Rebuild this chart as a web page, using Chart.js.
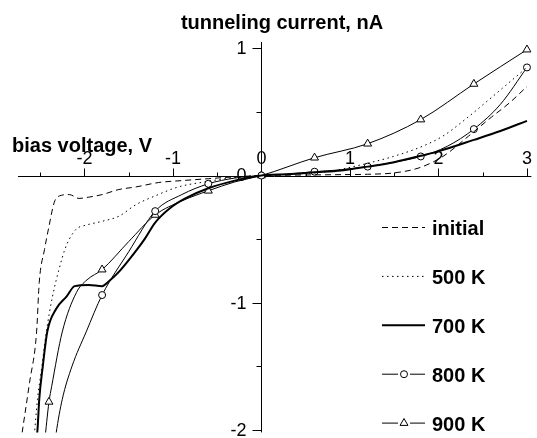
<!DOCTYPE html>
<html lang="en">
<head>
<meta charset="UTF-8">
<title>tunneling current vs bias voltage</title>
<script src="https://cdn.jsdelivr.net/npm/chart.js@4"></script>
<style>
  html, body { margin: 0; padding: 0; background: #fff; }
  #wrap { width: 537px; height: 438px; }
</style>
</head>
<body>
<div id="wrap"><canvas id="iv"></canvas></div>
<script>
  // bias voltage (V) and tunneling current (nA)
  const vInitial = [-2.72, -2.62, -2.54, -2.51, -2.45, -2.40, -2.34, -2.28, -2.17, -2.06, -1.95, -1.80, -1.61, -1.42, -1.16, -0.9, -0.6, -0.3, 0, 0.3, 0.6, 0.9, 1.2, 1.49, 1.78, 2.05, 2.34, 2.6, 2.8, 3.0];
  const iInitial = [-2.1, -1.63, -1.23, -0.84, -0.58, -0.40, -0.21, -0.16, -0.15, -0.18, -0.17, -0.15, -0.11, -0.09, -0.055, -0.04, -0.025, -0.01, 0, 0.003, 0.005, 0.007, 0.01, 0.02, 0.06, 0.15, 0.31, 0.46, 0.57, 0.70];

  const v500 = [-2.57, -2.53, -2.48, -2.43, -2.36, -2.28, -2.22, -2.17, -2.09, -1.98, -1.80, -1.61, -1.42, -1.2, -0.94, -0.64, -0.3, 0, 0.3, 0.74, 1.22, 1.49, 1.82, 2.05, 2.30, 2.61, 2.83, 3.0];
  const i500 = [-2.08, -1.76, -1.50, -1.23, -0.95, -0.72, -0.58, -0.50, -0.42, -0.39, -0.36, -0.32, -0.23, -0.16, -0.09, -0.05, -0.015, 0, 0.01, 0.03, 0.10, 0.15, 0.23, 0.31, 0.44, 0.62, 0.75, 0.85];

  const v700 = [-2.55, -2.53, -2.51, -2.47, -2.42, -2.32, -2.20, -2.11, -1.95, -1.80, -1.72, -1.6, -1.47, -1.32, -1.20, -1.02, -0.86, -0.6, -0.3, 0, 0.3, 0.6, 0.9, 1.2, 1.5, 1.8, 2.0, 2.4, 2.7, 3.0];
  const i700 = [-2.1, -2.0, -1.76, -1.50, -1.23, -1.05, -0.95, -0.87, -0.86, -0.87, -0.83, -0.75, -0.64, -0.50, -0.37, -0.25, -0.18, -0.10, -0.04, 0, 0.01, 0.025, 0.04, 0.07, 0.105, 0.155, 0.19, 0.28, 0.35, 0.43];

  const v800 = [-2.35, -2.32, -2.25, -2.14, -1.98, -1.8, -1.5, -1.2, -0.9, -0.6, -0.3, 0, 0.3, 0.6, 0.9, 1.2, 1.5, 1.8, 2.1, 2.4, 2.7, 3.0];
  const i800 = [-2.2, -2.03, -1.76, -1.50, -1.23, -0.94, -0.60, -0.28, -0.15, -0.065, -0.02, 0, 0.012, 0.03, 0.045, 0.07, 0.105, 0.15, 0.23, 0.365, 0.56, 0.85];

  const v900 = [-2.45, -2.4, -2.37, -2.25, -2.09, -1.97, -1.8, -1.5, -1.2, -0.9, -0.6, -0.3, 0, 0.6, 1.2, 1.8, 2.4, 3.0];
  const i900 = [-2.1, -1.78, -1.66, -1.23, -0.92, -0.82, -0.74, -0.52, -0.31, -0.20, -0.12, -0.05, 0, 0.14, 0.25, 0.44, 0.72, 0.99];

  // measured points that carry a symbol
  const markerV = [-2.4, -1.8, -1.2, -0.6, 0, 0.6, 1.2, 1.8, 2.4, 3.0];

  const xTicks = [-2, -1, 0, 1, 2, 3];
  const xMinor = [-2.5, -1.5, -0.5, 0.5, 1.5, 2.5];
  const yTicks = [1, 0, -1, -2];
  const yMinor = [0.5, -0.5, -1.5];
  const seriesLabels = ['initial', '500 K', '700 K', '800 K', '900 K'];

  const pts = (v, i) => v.map((x, k) => ({ x: x, y: i[k] }));
  const markerRadius = r => c => (c.raw && markerV.includes(c.raw.x)) ? r : 0;

  const base = {
    borderColor: '#000',
    fill: false,
    tension: 0.4,
    cubicInterpolationMode: 'monotone',
    pointRadius: 0,
    pointHoverRadius: 0,
    pointBackgroundColor: '#fff',
    pointBorderColor: '#000',
    pointBorderWidth: 1
  };

  const datasets = [
    Object.assign({}, base, { label: seriesLabels[0], data: pts(vInitial, iInitial), borderWidth: 1, borderDash: [6, 4] }),
    Object.assign({}, base, { label: seriesLabels[1], data: pts(v500, i500), borderWidth: 1, borderDash: [1.5, 3.5] }),
    Object.assign({}, base, { label: seriesLabels[2], data: pts(v700, i700), borderWidth: 2 }),
    Object.assign({}, base, { label: seriesLabels[3], data: pts(v800, i800), borderWidth: 1,
      pointStyle: 'circle', pointRadius: markerRadius(3.5) }),
    Object.assign({}, base, { label: seriesLabels[4], data: pts(v900, i900), borderWidth: 1,
      pointStyle: 'triangle', pointRadius: markerRadius(4.6) })
  ];

  const crisp = p => Math.round(p) + 0.5;

  // axes crossing at the origin, tick labels, titles and legend
  const frame = {
    id: 'frame',
    beforeDatasetsDraw(chart) {
      const { ctx, chartArea: a } = chart;
      const xs = chart.scales.x, ys = chart.scales.y;
      const x0 = crisp(xs.getPixelForValue(0));
      const y0 = crisp(ys.getPixelForValue(0));
      ctx.save();
      ctx.strokeStyle = '#000';
      ctx.lineWidth = 1;
      ctx.beginPath();
      ctx.moveTo(a.left, y0); ctx.lineTo(a.right, y0);
      ctx.moveTo(x0, a.top); ctx.lineTo(x0, a.bottom);
      xTicks.forEach(t => { const p = crisp(xs.getPixelForValue(t)); ctx.moveTo(p, y0); ctx.lineTo(p, y0 - 8); });
      xMinor.forEach(t => { const p = crisp(xs.getPixelForValue(t)); ctx.moveTo(p, y0); ctx.lineTo(p, y0 - 4); });
      yTicks.forEach(t => { const p = crisp(ys.getPixelForValue(t)); ctx.moveTo(x0, p); ctx.lineTo(x0 - 9, p); });
      yMinor.forEach(t => { const p = crisp(ys.getPixelForValue(t)); ctx.moveTo(x0, p); ctx.lineTo(x0 - 5, p); });
      ctx.stroke();

      ctx.fillStyle = '#000';
      ctx.font = '18px "Liberation Sans", Arial, sans-serif';
      ctx.textAlign = 'center';
      ctx.textBaseline = 'alphabetic';
      xTicks.forEach(t => ctx.fillText(String(t), xs.getPixelForValue(t), y0 - 13));
      ctx.textAlign = 'right';
      ctx.textBaseline = 'middle';
      yTicks.forEach(t => ctx.fillText(String(t), x0 - 15, ys.getPixelForValue(t) + 1));
      ctx.restore();
    },
    afterDraw(chart) {
      const ctx = chart.ctx;
      ctx.save();
      ctx.fillStyle = '#000';
      ctx.font = 'bold 20px "Liberation Sans", Arial, sans-serif';
      ctx.textBaseline = 'alphabetic';
      ctx.textAlign = 'center';
      ctx.fillText('tunneling current, nA', 282, 29);
      ctx.textAlign = 'left';
      ctx.fillText('bias voltage, V', 12, 152);

      chart.data.datasets.forEach((ds, k) => {
        const y = 227.5 + k * 48.9;
        ctx.strokeStyle = '#000';
        ctx.lineWidth = ds.borderWidth;
        ctx.setLineDash(ds.borderDash || []);
        ctx.beginPath();
        if (ds.pointStyle) {
          ctx.moveTo(382, y); ctx.lineTo(398, y);
          ctx.moveTo(410, y); ctx.lineTo(425, y);
        } else {
          ctx.moveTo(382, y); ctx.lineTo(425, y);
        }
        ctx.stroke();
        ctx.setLineDash([]);
        if (ds.pointStyle) {
          ctx.lineWidth = 1;
          ctx.fillStyle = '#fff';
          ctx.beginPath();
          if (ds.pointStyle === 'circle') {
            ctx.arc(404, y, 3.5, 0, Math.PI * 2);
          } else {
            const r = 4.6;
            ctx.moveTo(404, y - r);
            ctx.lineTo(404 + r * Math.sin(2 * Math.PI / 3), y - r * Math.cos(2 * Math.PI / 3));
            ctx.lineTo(404 + r * Math.sin(4 * Math.PI / 3), y - r * Math.cos(4 * Math.PI / 3));
            ctx.closePath();
          }
          ctx.fill();
          ctx.stroke();
        }
        ctx.fillStyle = '#000';
        ctx.fillText(ds.label, 432, y + 7.5);
      });
      ctx.restore();
    }
  };

  new Chart(document.getElementById('iv'), {
    type: 'line',
    data: { datasets: datasets },
    options: {
      responsive: true,
      maintainAspectRatio: false,
      animation: false,
      layout: { padding: { left: 18, right: 1, top: 42, bottom: 5 } },
      scales: {
        x: { type: 'linear', min: -2.75, max: 3.05, display: false },
        y: { type: 'linear', min: -2.02, max: 1.05, display: false }
      },
      plugins: {
        legend: { display: false },
        tooltip: { enabled: false }
      }
    },
    plugins: [frame]
  });
</script>
</body>
</html>
